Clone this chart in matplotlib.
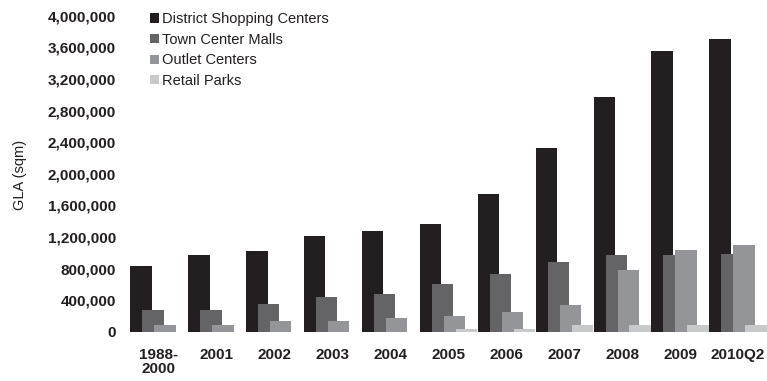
import matplotlib
matplotlib.use("Agg")
import matplotlib.pyplot as plt
import numpy as np
from matplotlib.ticker import FuncFormatter

# GLA by retail format, sqm
periods  = ["1988-\n2000", "2001", "2002", "2003", "2004", "2005",
            "2006", "2007", "2008", "2009", "2010Q2"]
district = [834000, 975000, 1025000, 1217000, 1280000, 1370000,
            1750000, 2325000, 2975000, 3560000, 3713000]
town     = [274000, 274000, 350000, 440000, 478000, 605000,
            733000, 885000, 975000, 975000, 987000]
outlet   = [83000, 83000, 134000, 134000, 172000, 197000,
            248000, 338000, 783000, 1038000, 1102000]
retail   = [0, 0, 0, 0, 0, 34000,
            34000, 83000, 83000, 83000, 83000]

series = [("District Shopping Centers", district, "#231f20"),
          ("Town Center Malls",         town,     "#646466"),
          ("Outlet Centers",            outlet,   "#939598"),
          ("Retail Parks",              retail,   "#c8c9cb")]

plt.rcParams["font.family"] = ["Liberation Sans", "DejaVu Sans"]

fig = plt.figure(figsize=(7.67, 3.81), dpi=100)
ax = fig.add_axes([0.1695, 0.1294, 0.8305, 0.829])

x = np.arange(len(periods))
step, width = 0.207, 0.37
for i, (name, vals, color) in enumerate(series):
    ax.bar(x + (i - 1.5) * step, vals, width=width, color=color,
           label=name, zorder=2 + i)

ax.set_xlim(-0.5, len(periods) - 0.5)
ax.set_ylim(0, 4000000)
ax.set_yticks(np.arange(0, 4000001, 400000))
ax.yaxis.set_major_formatter(FuncFormatter(lambda v, p: f"{int(v):,}"))
ax.set_xticks(x)
ax.set_xticklabels(periods, fontsize=11, fontweight="bold", linespacing=0.95)
for lbl in ax.get_yticklabels():
    lbl.set_fontsize(11)
    lbl.set_fontweight("bold")
ax.tick_params(axis="both", length=0, colors="#231f20")
ax.tick_params(axis="y", pad=10)
ax.tick_params(axis="x", pad=12)
for s in ax.spines.values():
    s.set_visible(False)

fig.text(0.026, 0.54, "GLA (sqm)", rotation=90, ha="center", va="center",
         fontsize=10.5, color="#231f20")

ax.legend(loc="upper left", bbox_to_anchor=(0.023, 1.03), frameon=False,
          fontsize=10.5, handlelength=0.6, handleheight=0.6,
          handletextpad=0.2, labelspacing=0.45, borderaxespad=0,
          labelcolor="#231f20")

fig.savefig("out.png", dpi=100)
